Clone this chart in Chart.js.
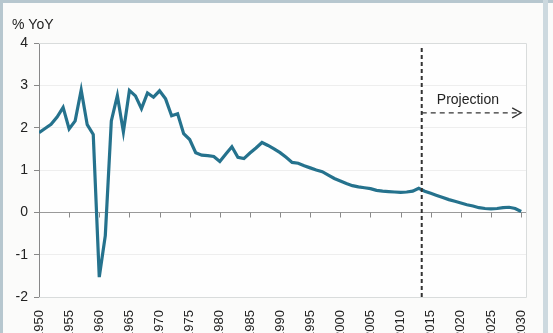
<!DOCTYPE html>
<html>
<head>
<meta charset="utf-8">
<script src="https://cdn.jsdelivr.net/npm/chart.js@4"></script>
<style>
  html, body { margin: 0; padding: 0; width: 553px; height: 333px; overflow: hidden; background: #fbfbfa; }
  #wrap { position: absolute; left: 0; top: 0; width: 553px; height: 345px; }
  .band { position: absolute; background: #b7c7cf; }
</style>
</head>
<body>
<div id="wrap"><canvas id="c" width="553" height="345"></canvas></div>
<div class="band" style="left:0;top:0;width:553px;height:3px;"></div>
<div class="band" style="left:0;top:0;width:3px;height:333px;"></div>
<div class="band" style="left:543px;top:0;width:5px;height:333px;background:#cdd9df;"></div>
<script>
// ---- data ----
const years = [
  1950,1951,1952,1953,1954,1955,1956,1957,1958,1959,
  1960,1961,1962,1963,1964,1965,1966,1967,1968,1969,
  1970,1971,1972,1973,1974,1975,1976,1977,1978,1979,
  1980,1981,1982,1983,1984,1985,1986,1987,1988,1989,
  1990,1991,1992,1993,1994,1995,1996,1997,1998,1999,
  2000,2001,2002,2003,2004,2005,2006,2007,2008,2009,
  2010,2011,2012,2013,2014,2015,2016,2017,2018,2019,
  2020,2021,2022,2023,2024,2025,2026,2027,2028,2029,
  2030
];
const growthYoY = [
  1.88,1.98,2.08,2.25,2.48,1.97,2.16,2.89,2.07,1.84,
  -1.53,-0.55,2.16,2.76,1.90,2.88,2.75,2.45,2.82,2.72,
  2.87,2.68,2.28,2.33,1.86,1.72,1.41,1.35,1.34,1.32,
  1.20,1.38,1.55,1.30,1.27,1.40,1.52,1.65,1.58,1.50,
  1.41,1.30,1.18,1.16,1.10,1.05,1.00,0.96,0.88,0.80,
  0.74,0.68,0.63,0.60,0.58,0.56,0.52,0.50,0.49,0.48,
  0.47,0.48,0.50,0.57,0.50,0.45,0.40,0.35,0.30,0.26,
  0.22,0.18,0.15,0.11,0.09,0.08,0.09,0.11,0.12,0.09,
  0.02
];
const yTicks = [-2, -1, 0, 1, 2, 3, 4];
const xTickYears = [1950,1955,1960,1965,1970,1975,1980,1985,1990,1995,2000,2005,2010,2015,2020,2025,2030];
const yAxisTitle = "% YoY";
const projectionLabel = "Projection";
const projectionStart = 2013.5;
const projectionArrowEnd = 2030;
const projectionArrowValue = 2.35;
const projectionLabelYear = 2016;
const projectionLabelValue = 2.65;

const points = years.map((y, i) => ({ x: y, y: growthYoY[i] }));

const FONT = "'Liberation Sans', Arial, sans-serif";

const decor = {
  id: 'decor',
  beforeDraw(chart) {
    const { ctx, chartArea: a } = chart;
    ctx.save();
    ctx.fillStyle = '#fefefe';
    ctx.fillRect(a.left, a.top, a.right - a.left, a.bottom - a.top);
    ctx.restore();
  },
  afterDatasetsDraw(chart) {
    const { ctx, chartArea: a, scales: { x, y } } = chart;
    ctx.save();
    // plot border top/right/bottom
    ctx.strokeStyle = '#d9dcdc';
    ctx.lineWidth = 1;
    ctx.beginPath();
    ctx.moveTo(a.left, Math.round(a.top) + 0.5);
    ctx.lineTo(Math.round(a.right) + 0.5, Math.round(a.top) + 0.5);
    ctx.lineTo(Math.round(a.right) + 0.5, Math.round(a.bottom) + 0.5);
    ctx.lineTo(a.left, Math.round(a.bottom) + 0.5);
    ctx.stroke();
    // tick marks on zero line
    const y0 = Math.round(y.getPixelForValue(0)) + 0.5;
    ctx.strokeStyle = '#8a8a8a';
    ctx.beginPath();
    xTickYears.forEach(v => {
      const px = Math.round(x.getPixelForValue(v)) + 0.5;
      ctx.moveTo(px, y0);
      ctx.lineTo(px, y0 + 5);
    });
    ctx.stroke();
    // projection vertical dashed line
    const px = x.getPixelForValue(projectionStart);
    ctx.strokeStyle = '#333';
    ctx.lineWidth = 2;
    ctx.setLineDash([4, 3]);
    ctx.beginPath();
    ctx.moveTo(px, a.top + 5);
    ctx.lineTo(px, a.bottom);
    ctx.stroke();
    // arrow
    const ay = y.getPixelForValue(projectionArrowValue);
    const ax2 = x.getPixelForValue(projectionArrowEnd);
    ctx.lineWidth = 1.3;
    ctx.setLineDash([5, 4]);
    ctx.beginPath();
    ctx.moveTo(px, ay);
    ctx.lineTo(ax2 - 2, ay);
    ctx.stroke();
    ctx.setLineDash([]);
    ctx.beginPath();
    ctx.moveTo(ax2 - 9, ay - 5);
    ctx.lineTo(ax2, ay);
    ctx.lineTo(ax2 - 9, ay + 5);
    ctx.stroke();
    // label
    ctx.fillStyle = '#222';
    ctx.font = '14px ' + FONT;
    ctx.textAlign = 'left';
    ctx.textBaseline = 'middle';
    ctx.fillText(projectionLabel, x.getPixelForValue(projectionLabelYear), y.getPixelForValue(projectionLabelValue));
    // y axis title
    ctx.font = '14px ' + FONT;
    ctx.textBaseline = 'alphabetic';
    ctx.fillText(yAxisTitle, 12, 29);
    ctx.restore();
  }
};

new Chart(document.getElementById('c'), {
  type: 'line',
  data: {
    datasets: [{
      data: points,
      borderColor: '#25728d',
      borderWidth: 3.2,
      pointRadius: 0,
      tension: 0,
      fill: false
    }]
  },
  options: {
    responsive: false,
    animation: false,
    events: [],
    layout: { padding: { top: 43, right: 27, left: 3, bottom: 0 } },
    plugins: { legend: { display: false }, tooltip: { enabled: false } },
    scales: {
      x: {
        type: 'linear',
        min: 1950,
        max: 2030.8,
        afterBuildTicks(scale) { scale.ticks = xTickYears.map(v => ({ value: v })); },
        afterFit(scale) { scale.height = 48; },
        grid: { display: true, drawOnChartArea: false, drawTicks: false },
        border: { display: false },
        ticks: {
          minRotation: 90, maxRotation: 90, padding: 13,
          autoSkip: false,
          color: '#222',
          font: { family: FONT, size: 13 },
          callback: v => String(v)
        }
      },
      y: {
        min: -2, max: 4,
        afterBuildTicks(scale) { scale.ticks = yTicks.map(v => ({ value: v })); },
        afterFit(scale) { scale.width = 36; },
        grid: {
          color: c => (c.tick && c.tick.value === 0) ? '#9a9a9a' : ((c.tick && (c.tick.value === 4 || c.tick.value === -2)) ? 'rgba(0,0,0,0)' : '#eeeeee'),
          tickColor: '#888',
          tickLength: 5,
          lineWidth: 1
        },
        border: { display: true, color: '#888' },
        ticks: {
          padding: 6,
          color: '#222',
          font: { family: FONT, size: 14 },
          callback: v => String(v)
        }
      }
    }
  },
  plugins: [decor]
});
</script>
</body>
</html>
